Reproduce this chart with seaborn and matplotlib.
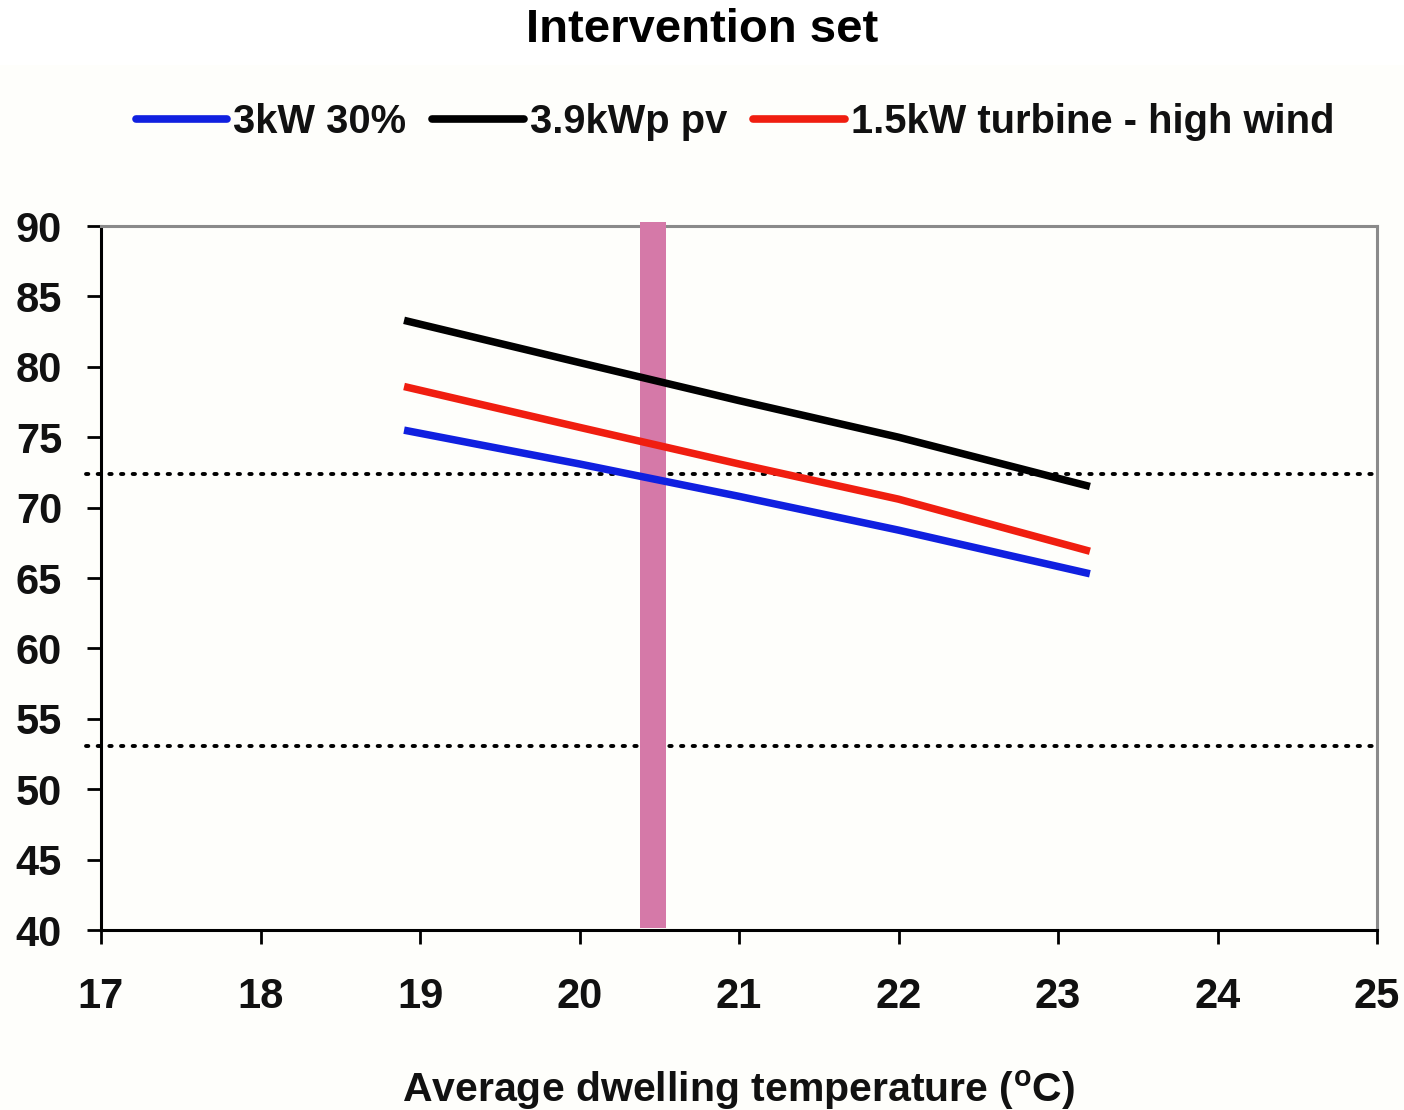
import matplotlib
matplotlib.use("Agg")
import matplotlib.pyplot as plt
import seaborn as sns
import pandas as pd
from matplotlib.lines import Line2D
from matplotlib.patches import Rectangle

# Series data: average dwelling temperature (°C) vs. value
temps = [18.9, 20.0, 21.0, 22.0, 23.2]
boiler_3kw = [75.5, 73.1, 70.8, 68.4, 65.3]
pv_39kwp = [83.3, 80.3, 77.6, 75.0, 71.5]
turbine_15kw = [78.6, 75.7, 73.1, 70.6, 66.9]

series_names = ["3kW 30%", "3.9kWp pv", "1.5kW turbine - high wind"]
series_colors = ["#1020e0", "#000000", "#f01e10"]

ref_levels = [72.4, 53.1]
marker_temp = 20.46

xticks = [17, 18, 19, 20, 21, 22, 23, 24, 25]
yticks = [40, 45, 50, 55, 60, 65, 70, 75, 80, 85, 90]

rows = []
for name, vals in zip(series_names, [boiler_3kw, pv_39kwp, turbine_15kw]):
    for t, v in zip(temps, vals):
        rows.append({"temp": t, "value": v, "series": name})
df = pd.DataFrame(rows)

sns.set_theme(style="white")
plt.rcParams["font.family"] = ["Liberation Sans", "DejaVu Sans"]
plt.rcParams["mathtext.fontset"] = "custom"
plt.rcParams["mathtext.rm"] = "Liberation Sans:bold"

bg = "#fefefb"
fig = plt.figure(figsize=(14.04, 11.10), dpi=100, facecolor=bg)
fig.patches.append(Rectangle((0, 1 - 65 / 1110), 1, 65 / 1110, transform=fig.transFigure,
                             facecolor="white", edgecolor="none", zorder=0))
ax = fig.add_axes([101 / 1404, 1 - 930 / 1110, 1276 / 1404, 704 / 1110])
ax.set_facecolor(bg)

# vertical marker band
ax.axvspan(marker_temp - 0.08, marker_temp + 0.08, ymin=0.003, ymax=1.006,
           color="#d579a8", zorder=3, clip_on=False, lw=0)

# horizontal reference levels
for lvl in ref_levels:
    ax.axhline(lvl, color="black", lw=2.8, linestyle=(0, (0.6, 2.4)),
               dash_capstyle="round", zorder=2, xmin=-0.012, clip_on=False)

sns.lineplot(data=df, x="temp", y="value", hue="series", hue_order=series_names,
             palette=series_colors, lw=5.4, ax=ax, legend=False, zorder=4,
             solid_capstyle="butt")

ax.set_xlim(17, 25)
ax.set_ylim(40, 90)
ax.set_xticks(xticks)
ax.set_yticks(yticks)
ax.set_xticklabels([str(t) for t in xticks])
ax.set_yticklabels([str(t) for t in yticks])

for side in ["left", "bottom"]:
    ax.spines[side].set_color("black")
    ax.spines[side].set_linewidth(2.2)
for side in ["top", "right"]:
    ax.spines[side].set_color("#8a8a8a")
    ax.spines[side].set_linewidth(2.2)

ax.tick_params(axis="both", which="major", direction="out", length=10, width=2,
               color="black", labelsize=30)
ax.tick_params(axis="y", left=True, pad=18)
ax.tick_params(axis="x", bottom=True, pad=24)
for lab in ax.get_xticklabels() + ax.get_yticklabels():
    lab.set_fontweight("bold")
    lab.set_color("#111111")

ax.set_xlabel("")
ax.set_ylabel("")
fig.text(738 / 1404, 1 - 1090 / 1110, r"Average dwelling temperature ($^{\mathrm{o}}$C)",
         ha="center", va="center", fontsize=29.5, fontweight="bold",
         color="#111111")

fig.text(0.5, 1 - 30 / 1110, "Intervention set", ha="center", va="center",
         fontsize=34, fontweight="bold", color="black")

handles = [Line2D([0], [0], color=c, lw=5.5) for c in series_colors]
leg = fig.legend(handles, series_names, loc="center", ncol=3,
                 bbox_to_anchor=(735 / 1404, 1 - 122 / 1110), frameon=False,
                 handlelength=2.3, handletextpad=0.15, columnspacing=0.65,
                 prop={"family": "Liberation Sans", "weight": "bold", "size": 28.7})
for t in leg.get_texts():
    t.set_color("#111111")

fig.savefig("out.png", dpi=100, facecolor=bg)
